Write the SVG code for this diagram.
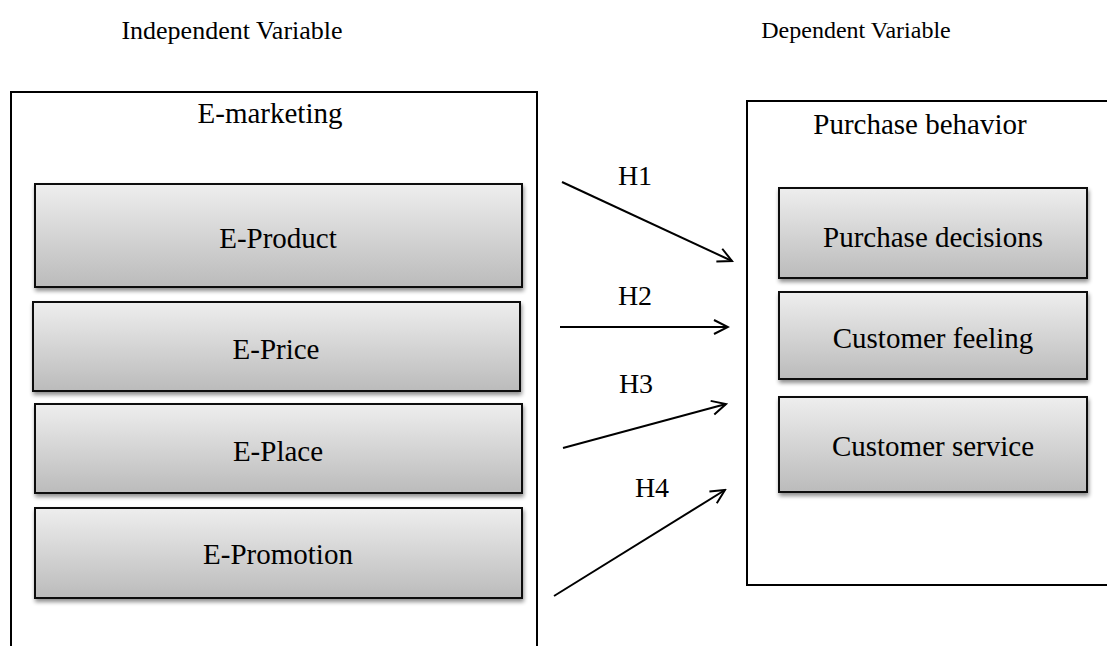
<svg xmlns="http://www.w3.org/2000/svg" width="1107" height="646" viewBox="0 0 1107 646">
<style>
text{font-family:"Liberation Serif","Times New Roman",serif;fill:#000;font-size:29px;text-anchor:middle}
.h{font-size:28px}
.hd{font-size:25px}
.outer{fill:none;stroke:#000;stroke-width:2}
.box{fill:url(#g);stroke:#111;stroke-width:2;filter:url(#sh)}
.conn{fill:none;stroke:#000;stroke-width:2;marker-end:url(#ah)}
</style>
<defs>
<linearGradient id="g" x1="0" y1="0" x2="0" y2="1">
<stop offset="0" stop-color="#eeeeee"/>
<stop offset="1" stop-color="#bbbbbb"/>
</linearGradient>
<filter id="sh" x="-5%" y="-10%" width="115%" height="130%">
<feGaussianBlur in="SourceAlpha" stdDeviation="2"/>
<feOffset dx="1" dy="3" result="b"/>
<feComponentTransfer><feFuncA type="linear" slope="0.45"/></feComponentTransfer>
<feMerge><feMergeNode/><feMergeNode in="SourceGraphic"/></feMerge>
</filter>
<marker id="ah" viewBox="0 0 20 20" refX="18" refY="10" markerWidth="20" markerHeight="20" markerUnits="userSpaceOnUse" orient="auto">
<path d="M4,3 L18,10 L4,17" fill="none" stroke="#000" stroke-width="2"/>
</marker>
</defs>
<text class="hd" x="232" y="39" style="font-size:26px">Independent Variable</text>
<text class="hd" x="856" y="38" style="font-size:24px">Dependent Variable</text>
<g id="emarketing">
<path class="outer" d="M11,650 V92 H537 V650"/>
<text x="270" y="123">E-marketing</text>
</g>
<g id="purchase-behavior">
<path class="outer" d="M1110,101 H747 V585 H1110"/>
<text x="920" y="134">Purchase behavior</text>
</g>
<g id="e-product"><rect class="box" x="35" y="184" width="487" height="103"/><text x="278" y="248">E-Product</text></g>
<g id="e-price"><rect class="box" x="33" y="302" width="487" height="89"/><text x="276" y="359">E-Price</text></g>
<g id="e-place"><rect class="box" x="35" y="404" width="487" height="89"/><text x="278" y="461">E-Place</text></g>
<g id="e-promotion"><rect class="box" x="35" y="508" width="487" height="90"/><text x="278" y="564">E-Promotion</text></g>
<g id="purchase-decisions"><rect class="box" x="779" y="188" width="308" height="90"/><text x="933" y="247">Purchase decisions</text></g>
<g id="customer-feeling"><rect class="box" x="779" y="292" width="308" height="87"/><text x="933" y="348">Customer feeling</text></g>
<g id="customer-service"><rect class="box" x="779" y="397" width="308" height="95"/><text x="933" y="456">Customer service</text></g>
<g id="connectors">
<line class="conn" x1="562" y1="182" x2="732" y2="261"/>
<line class="conn" x1="560" y1="327" x2="728" y2="327"/>
<line class="conn" x1="563" y1="448" x2="726" y2="404"/>
<line class="conn" x1="554" y1="596" x2="725" y2="490"/>
<text class="h" x="635" y="185">H1</text>
<text class="h" x="635" y="305">H2</text>
<text class="h" x="636" y="393">H3</text>
<text class="h" x="652" y="497">H4</text>
</g>
</svg>
